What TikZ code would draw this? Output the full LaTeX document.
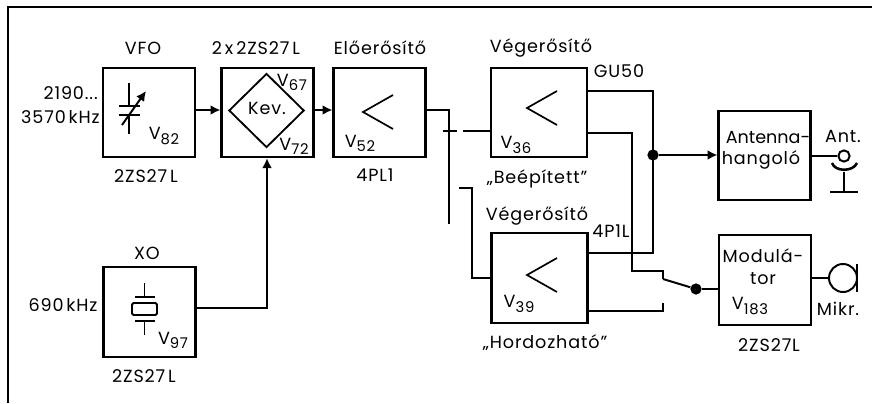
\documentclass[tikz,border=0pt]{standalone}
\usepackage{fontspec}
\setmainfont[LetterSpace=5]{Poppins}
\newfontfamily\tightfont{Poppins}
\usetikzlibrary{shapes.geometric,arrows.meta,calc}

\newcommand{\tube}[1]{V\raisebox{-3pt}{\fontsize{10.5}{11}\selectfont #1}}

\tikzset{
  block/.style={draw, line width=1.5pt, minimum width=2.3cm, minimum height=2.23cm, inner sep=0pt},
  wire/.style={line width=1.4pt},
  lbl/.style={font=\fontsize{12.5}{13}\selectfont, inner sep=0pt, align=center},
  dot/.style={circle, fill=black, inner sep=0pt, minimum size=8pt}
}

\begin{document}
\begin{tikzpicture}[x=0.025cm, y=-0.025cm, >={Latex[length=7pt,width=7pt]}]
  \useasboundingbox (0,0) rectangle (872,403);
  % Frame, open at the right and at the bottom
  \coordinate (frameA) at (8,403);
  \coordinate (frameB) at (8,7);
  \coordinate (frameC) at (872,7);
  \draw[line width=1.2pt] (frameA) -- (frameB) -- (frameC);

  % Blocks
  \node[block] (vfo) at (149,112.5) {};
  \node[block] (kev) at (267.5,112.5) {};
  \node[block] (elo) at (379.5,112.5) {};
  \node[block, minimum width=2.4cm] (vegA) at (539,112.5) {};
  \node[block, minimum width=2.4cm] (vegB) at (539.5,278) {};
  \node[block] (ant) at (764.5,155.5) {};
  \node[block] (mod) at (765,280) {};
  \node[block] (xo) at (149.5,312) {};
  \node[draw, diamond, line width=1.3pt, minimum width=1.88cm, minimum height=1.85cm, inner sep=0pt] (kevd) at (266.5,110.5) {};

  % Labels above and below the blocks
  \node[lbl] (lVfo) at (143,48) {VFO};
  \node[lbl] (lDbl) at (256,48) {2\,x\,2ZS27\,L};
  \node[lbl] (lElo) at (380,48) {Előerősítő};
  \node[lbl] (lVegA) at (541,48) {Végerősítő};
  \node[lbl] (lGu) at (619,71) {GU50};
  \node[lbl] (lTubeA) at (146,176) {2ZS27\,L};
  \node[lbl] (lPl) at (375,175) {4PL1};
  \node[lbl] (lBeep) at (537,179) {„Beépített"};
  \node[lbl] (lVegB) at (537,216) {Végerősítő};
  \node[lbl] (lPa) at (611,231) {4P1L};
  \node[lbl] (lHord) at (545,343) {„Hordozható"};
  \node[lbl] (lXo) at (147,253) {XO};
  \node[lbl] (lTubeB) at (144,376) {2ZS27\,L};
  \node[lbl] (lTubeC) at (769,345) {2ZS27L};

  % Frequencies
  \node[lbl, anchor=east] (lFa) at (98,93) {2190...};
  \node[lbl, anchor=east] (lFb) at (100,117) {3570\,kHz};
  \node[lbl] (lFc) at (63,305) {690\,kHz};

  % Texts inside the blocks
  \node[lbl] (lKev) at (267,108) {Kev.};
  \node[lbl] (v82) at (164,136) {\tube{82}};
  \node[lbl] (v67) at (292,82) {\tube{67}};
  \node[lbl] (v72) at (294,146) {\tube{72}};
  \node[lbl] (v52) at (360,143) {\tube{52}};
  \node[lbl] (v36) at (516,145) {\tube{36}};
  \node[lbl] (v39) at (519,304) {\tube{39}};
  \node[lbl] (v97) at (173,340) {\tube{97}};
  \node[lbl] (v183) at (750,306) {\tube{183}};
  \node[lbl] (lAntA) at (768,137) {\tightfont Antenna-};
  \node[lbl] (lAntB) at (761,160) {hangoló};
  \node[lbl] (lModA) at (763,256) {Modulá-};
  \node[lbl] (lModB) at (763,279) {tor};
  \node[lbl] (lAnt) at (843,136) {Ant.};
  \node[lbl] (lMik) at (838,309) {Mikr.};

  % Amplifier signs
  \foreach \x/\y in {363/112, 527/108, 527/275} {
    \draw[line width=1.2pt] (\x+30,\y-17) -- (\x,\y) -- (\x+30,\y+17);
  }

  % Variable capacitor
  \draw[wire] (129,83) -- (129,106);
  \draw[wire] (119,106) -- (140,106);
  \draw[wire] (119,115) -- (140,115);
  \draw[wire] (129,115) -- (129,134);
  \draw[wire, ->] (122,125) -- (146,91);

  % Crystal
  \draw[wire] (144.5,283) -- (144.5,297);
  \draw[wire] (135,297) -- (155,297);
  \draw[wire, rounded corners=1pt] (132,303) rectangle (157,315);
  \draw[wire] (135,321) -- (155,321);
  \draw[wire] (144.5,321) -- (144.5,335);

  % Chain from the oscillators to the driver
  \coordinate (yA) at (0,110);
  \coordinate (xoTurn) at (267,308);
  \draw[wire, ->] (vfo.east |- yA) -- (kev.west |- yA);
  \draw[wire, ->] (kev.east |- yA) -- (elo.west |- yA);
  \draw[wire, ->] (xo.east |- xoTurn) -- (xoTurn) -- (xoTurn |- kev.south);

  % Driver output, broken at the change-over
  \coordinate (driveTurn) at (449,110);
  \coordinate (driveEnd) at (449,224);
  \draw[wire] (elo.east |- driveTurn) -- (driveTurn) -- (driveEnd);
  \coordinate (tickA) at (443,131);
  \coordinate (tickB) at (457,131);
  \coordinate (inA) at (463,131);
  \draw[wire] (tickA) -- (tickB);
  \draw[wire] (inA) -- (vegA.west |- inA);
  \coordinate (stubA) at (459,188);
  \coordinate (stubB) at (472,188);
  \coordinate (stubC) at (472,278);
  \draw[wire] (stubA) -- (stubB) -- (stubC) -- (vegB.west |- stubC);

  % Power amplifier outputs to the antenna tuner
  \coordinate (outA) at (653,91);
  \coordinate (outB) at (653,253);
  \node[dot] (join) at (653,155) {};
  \draw[wire] (vegA.east |- outA) -- (outA) -- (outB) -- (vegB.east |- outB);
  \draw[wire, ->] (join) -- (ant.west |- join);

  % Modulator line and switch
  \coordinate (modA) at (632,133);
  \coordinate (modB) at (632,271);
  \coordinate (modC) at (663,271);
  \coordinate (modD) at (663,279);
  \coordinate (modE) at (663,303);
  \coordinate (modF) at (663,311);
  \node[dot] (sw) at (696,289) {};
  \draw[wire] (vegA.east |- modA) -- (modA) -- (modB) -- (modC) -- (modD);
  \draw[wire] (modE) -- (modF) -- (vegB.east |- modF);
  \draw[wire] (modD) -- (sw);
  \draw[wire] (sw) -- (mod.west |- sw);

  % Antenna socket
  \node[draw, circle, line width=1.4pt, minimum size=8pt, inner sep=0pt] (socket) at (844,156) {};
  \draw[wire] (ant.east |- socket) -- (socket);
  \coordinate (dishL) at (832,163);
  \coordinate (dishR) at (857,163);
  \coordinate (stemT) at (844,172);
  \coordinate (stemB) at (844,192);
  \coordinate (baseL) at (830,192);
  \coordinate (baseR) at (858,192);
  \draw[line width=1.8pt] (dishL) .. controls (835,172) and (853,172) .. (dishR);
  \draw[wire] (stemT) -- (stemB);
  \draw[wire] (baseL) -- (baseR);

  % Microphone
  \node[draw, circle, line width=1.4pt, minimum size=0.7cm, inner sep=0pt] (mic) at (843,278) {};
  \coordinate (micT) at (857,264);
  \coordinate (micB) at (857,292);
  \draw[line width=1.8pt] (micT) -- (micB);
  \draw[wire] (mod.east |- mic) -- (mic);
\end{tikzpicture}
\end{document}
